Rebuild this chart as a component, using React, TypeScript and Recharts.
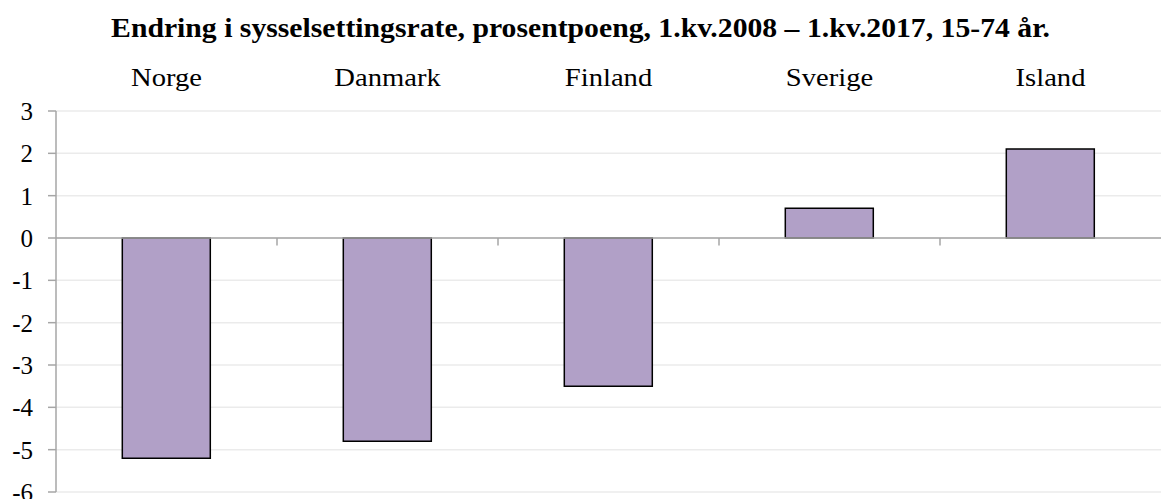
import React from "react";
import { BarChart, Bar, XAxis, YAxis, CartesianGrid, ReferenceLine, ReferenceArea } from "recharts";

const countries = ["Norge", "Danmark", "Finland", "Sverige", "Island"];
const changes = [-5.2, -4.8, -3.5, 0.7, 2.1];
const yTicks = [-6, -5, -4, -3, -2, -1, 0, 1, 2, 3];

const data = countries.map((c, i) => ({ name: c, value: changes[i] }));

const FONT = "Liberation Serif";
const SX = 1.1;
const AXIS_GRAY = "#a6a6a6";

const TopTick = (props: any) => {
  const { x, y, payload } = props;
  return (
    <g transform={`translate(${x},${y - 17}) scale(${SX},1)`}>
      <text x={0} y={0} textAnchor="middle" fontFamily={FONT} fontSize={26} fill="#000">
        {payload.value}
      </text>
    </g>
  );
};

const LeftTick = (props: any) => {
  const { x, y, payload } = props;
  return (
    <text x={x} y={y} dy={9} textAnchor="end" fontFamily={FONT} fontSize={25} fill="#000">
      {payload.value}
    </text>
  );
};

const BoundaryTick = (props: any) => {
  const { x, y, height } = props;
  return <line x1={x} x2={x} y1={y} y2={y + height} stroke={AXIS_GRAY} strokeWidth={1.5} />;
};

export default function App() {
  return (
    <div style={{ position: "absolute", left: 0, top: 0, width: 1161, height: 499, background: "#fff", overflow: "hidden" }}>
      <div
        style={{
          position: "absolute",
          left: 0,
          top: 13,
          width: 1161,
          textAlign: "center",
          fontFamily: FONT,
          fontWeight: "bold",
          fontSize: 27,
          lineHeight: "30px",
          color: "#000",
          transform: `scaleX(${SX})`,
          transformOrigin: "580px 0",
          whiteSpace: "nowrap",
        }}
      >
        Endring i sysselsettingsrate, prosentpoeng, 1.kv.2008 – 1.kv.2017, 15-74 år.
      </div>
      <BarChart
        width={1161}
        height={499}
        data={data}
        margin={{ top: 61, right: 0, bottom: 7, left: 0 }}
        barCategoryGap="30%"
      >
        <CartesianGrid horizontal vertical={false} stroke="#ebebeb" strokeWidth={1.5} />
        <XAxis
          dataKey="name"
          orientation="top"
          height={50}
          axisLine={false}
          tickLine={false}
          tick={<TopTick />}
          interval={0}
        />
        <YAxis
          width={56}
          domain={[-6, 3]}
          ticks={yTicks}
          interval={0}
          axisLine={{ stroke: AXIS_GRAY, strokeWidth: 1.5 }}
          tickLine={{ stroke: AXIS_GRAY, strokeWidth: 1.5 }}
          tickSize={8}
          tickMargin={15}
          tick={<LeftTick />}
        />
        <Bar dataKey="value" fill="#B1A0C7" stroke="#000" strokeWidth={1.5} isAnimationActive={false} />
        <ReferenceLine y={0} stroke={AXIS_GRAY} strokeWidth={1.5} />
        {countries.slice(1).map((c) => (
          <ReferenceArea key={c} x1={c} x2={c} y1={0} y2={-0.18} shape={<BoundaryTick />} ifOverflow="visible" />
        ))}
      </BarChart>
    </div>
  );
}
